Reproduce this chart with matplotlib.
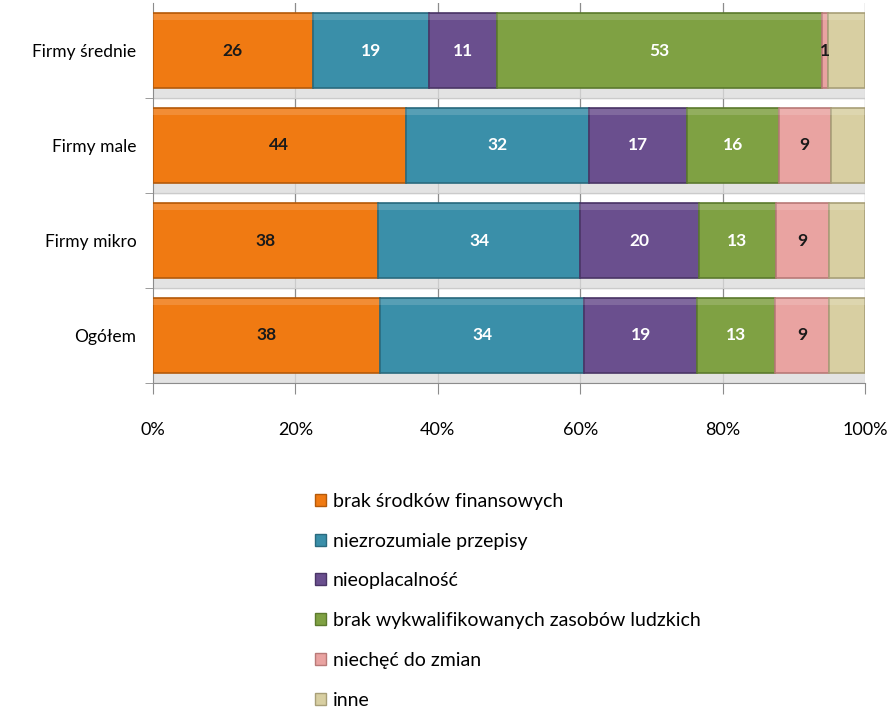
import numpy as np
import matplotlib.pyplot as plt
from matplotlib.patches import Patch

plt.rcParams['font.family'] = ['Lato', 'DejaVu Sans']

# Kategorie od dołu do góry
kategorie = ['Ogółem', 'Firmy mikro', 'Firmy male', 'Firmy średnie']

serie = ['brak środków finansowych', 'niezrozumiale przepisy', 'nieoplacalność',
         'brak wykwalifikowanych zasobów ludzkich', 'niechęć do zmian', 'inne']

brak_srodkow = [38, 38, 44, 26]
przepisy = [34, 34, 32, 19]
nieoplacalnosc = [19, 20, 17, 11]
brak_kadr = [13, 13, 16, 53]
niechec = [9, 9, 9, 1]
inne = [6, 6, 6, 6]

kolory = ['#f07a12', '#3a8fa9', '#6a4f8e', '#7fa143', '#e9a3a1', '#d8cfa2']
krawedzie = ['#b45a0a', '#2a6a7e', '#4a3566', '#5c7a2e', '#b87a78', '#a89f78']
kolor_tekstu = ['#1a1a1a', 'white', 'white', 'white', '#1a1a1a', None]

dane = np.array([brak_srodkow, przepisy, nieoplacalnosc, brak_kadr, niechec, inne], dtype=float)
procenty = dane / dane.sum(axis=0) * 100

fig = plt.figure(figsize=(8.91, 7.11), dpi=100)
ax = fig.add_axes([153 / 891, 1 - 383 / 711, 712 / 891, 380 / 711])

y = np.arange(len(kategorie))
wys = 0.78

# cień pod słupkami
ax.barh(y - wys / 2 - 0.06, 100, height=0.12, left=0, color='#dcdcdc', alpha=0.8, zorder=2)

lewo = np.zeros(len(kategorie))
for i, nazwa in enumerate(serie):
    ax.barh(y, procenty[i], left=lewo, height=wys, color=kolory[i],
            edgecolor=krawedzie[i], linewidth=1.2, zorder=3, label=nazwa)
    # jaśniejszy pasek u góry (efekt wypukłości)
    ax.barh(y + wys / 2 - 0.04, procenty[i], left=lewo, height=0.06,
            color='white', alpha=0.15, linewidth=0, zorder=4)
    if kolor_tekstu[i] is not None:
        for j in range(len(kategorie)):
            ax.text(lewo[j] + procenty[i][j] / 2, y[j], f'{int(dane[i][j])}',
                    ha='center', va='center', fontsize=12.5, fontweight='bold',
                    color=kolor_tekstu[i], zorder=5)
    lewo += procenty[i]

ax.set_xlim(0, 100)
ax.set_ylim(-0.5, len(kategorie) - 0.5)

# linie siatki
for x in range(20, 101, 20):
    ax.axvline(x, color='#8c8c8c', linewidth=0.9, zorder=1)
for b in np.arange(-0.5, len(kategorie) - 1, 1.0):
    ax.axhline(b, color='#8c8c8c', linewidth=0.9, zorder=1)

ax.set_yticks(y)
ax.set_yticklabels(kategorie, fontsize=12.5, color='black')
ax.tick_params(axis='y', length=0, pad=12)
ax.set_yticks(np.arange(-0.5, len(kategorie) - 1, 1.0), minor=True)
ax.tick_params(axis='y', which='minor', length=6, color='#8c8c8c', direction='out')

ax.set_xticks(range(0, 101, 20))
ax.set_xticklabels([f'{v}%' for v in range(0, 101, 20)], fontsize=13, color='black')
ax.tick_params(axis='x', length=8, color='#8c8c8c', pad=20)

for s in ['top', 'right']:
    ax.spines[s].set_visible(False)
ax.spines['left'].set_color('#8c8c8c')
ax.spines['bottom'].set_color('#8c8c8c')

uchwyty = [Patch(facecolor=kolory[i], edgecolor=krawedzie[i]) for i in range(len(serie))]
fig.legend(uchwyty, serie, loc='upper left', bbox_to_anchor=(307 / 891, 1 - 485 / 711),
           frameon=False, fontsize=14, handlelength=0.58, handleheight=0.58,
           handletextpad=0.35, labelspacing=1.17, borderaxespad=0)

fig.savefig('out.png', dpi=100)
